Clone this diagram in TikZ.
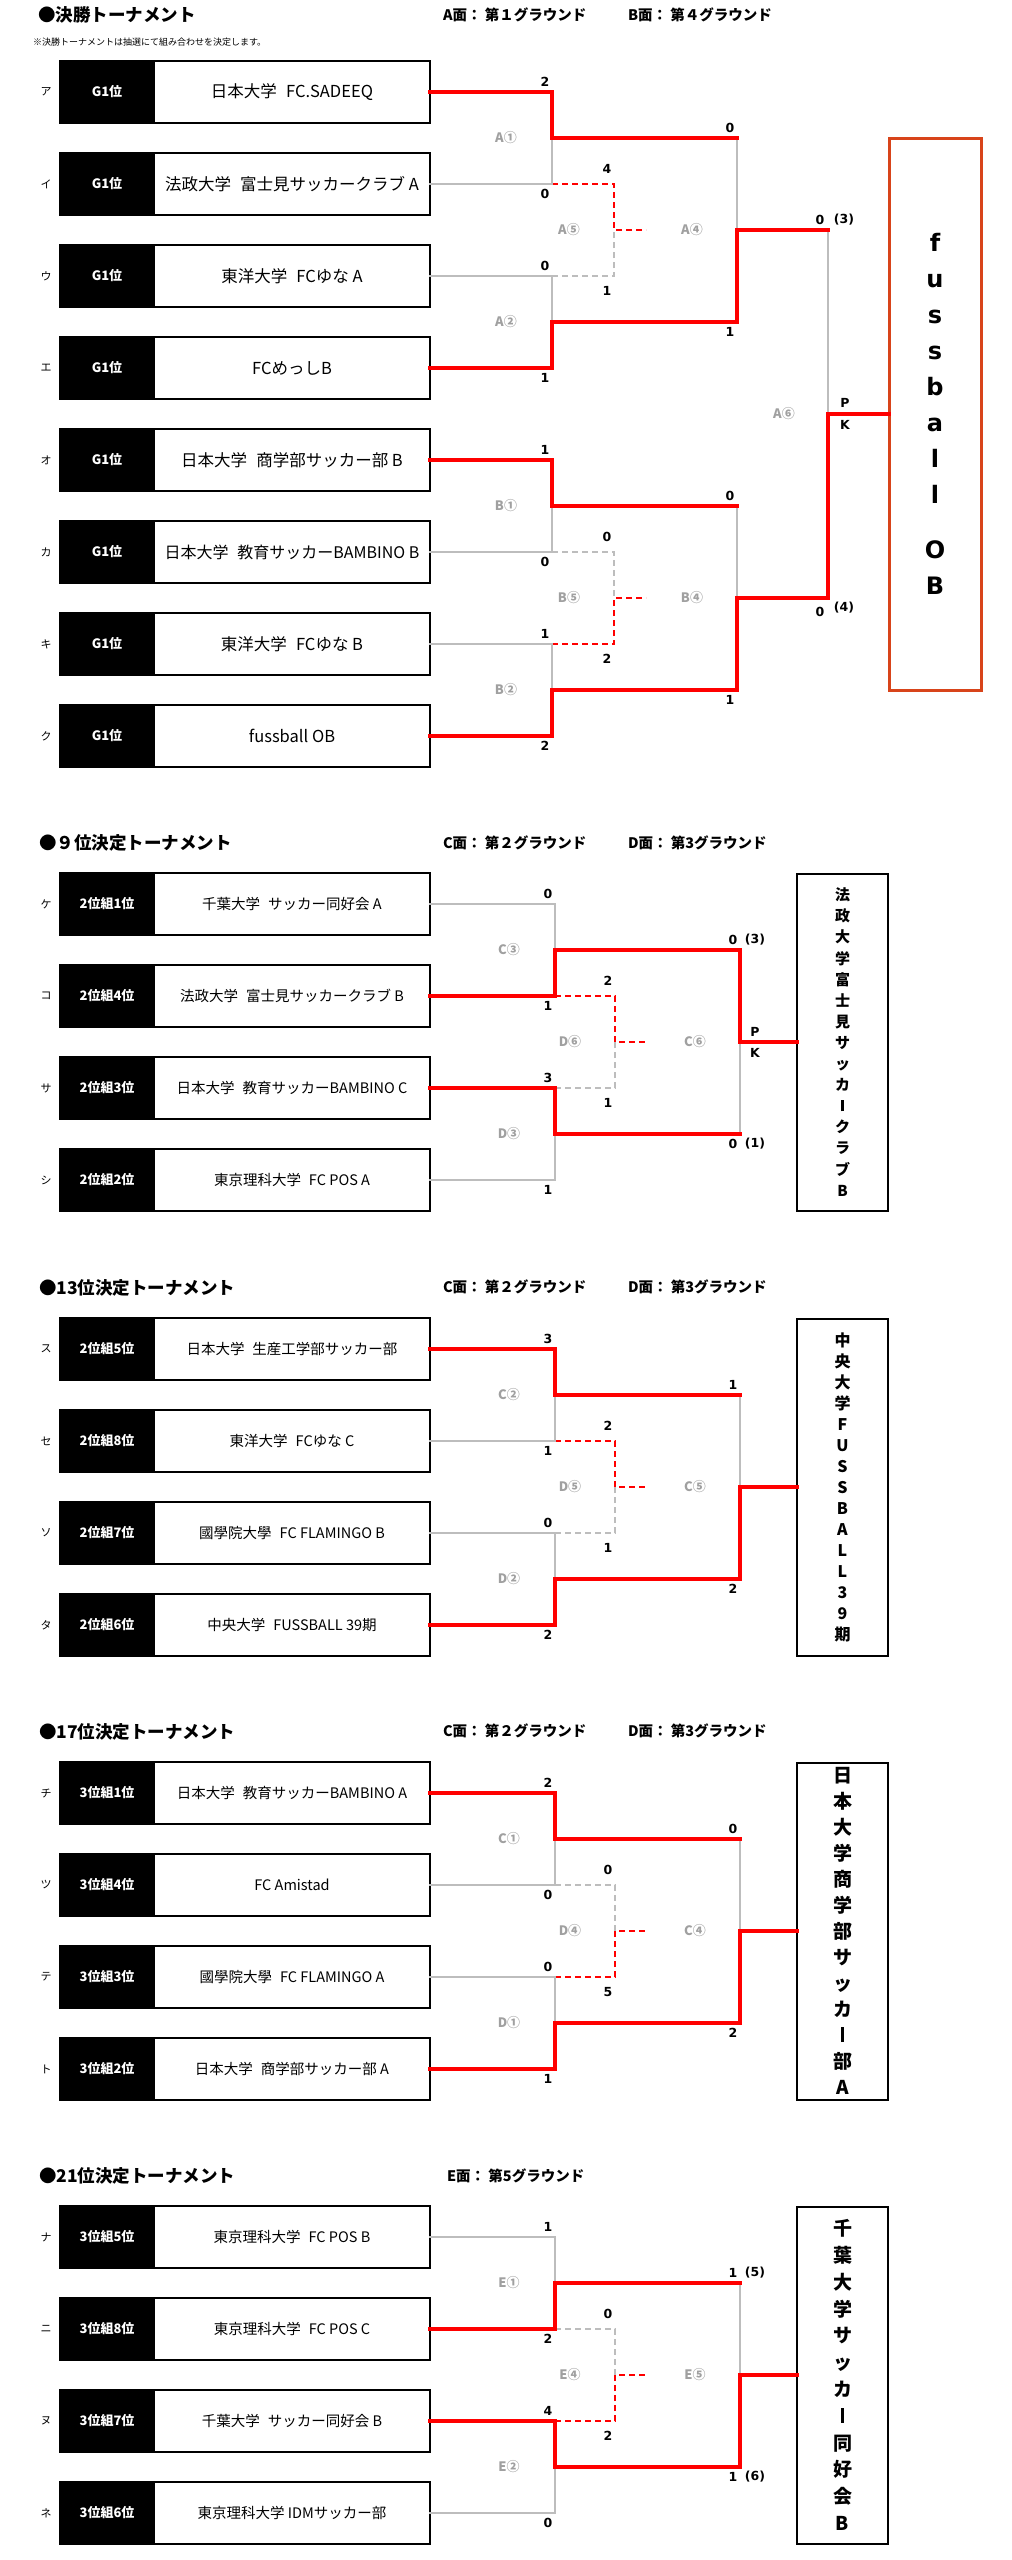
\documentclass[tikz,border=0pt]{standalone}
\usepackage{fontspec}
\setmainfont{Noto Sans CJK JP}
\newfontfamily\scorefont{DejaVu Sans}
\definecolor{winred}{HTML}{FF0000}
\definecolor{losegrey}{HTML}{BDBDBD}
\definecolor{lblgrey}{HTML}{A0A0A0}
\definecolor{champorange}{HTML}{D8441A}
\newcommand{\tgap}{\hspace{0.55em}}
\newcommand{\vbarch}{\rule[0.02em]{0.14em}{0.78em}}
\tikzset{
  every node/.style={inner sep=0pt, outer sep=0pt},
  titletext/.style={anchor=west, font=\bfseries\fontsize{17.5}{17.5}\selectfont},
  notetext/.style={anchor=west, font=\fontsize{9}{9}\selectfont},
  hdrtext/.style={anchor=west, font=\bfseries\fontsize{14.5}{14.5}\selectfont},
  kanalbl/.style={font=\fontsize{11}{11}\selectfont},
  rankbox/.style={minimum width=94pt, minimum height=62pt, fill=black, draw=black, line width=2pt, text=white, font=\bfseries\fontsize{13}{13}\selectfont},
  namebox/.style={minimum width=276pt, minimum height=62pt, fill=white, draw=black, line width=2pt},
  win/.style={draw=winred, line width=3.1pt, line cap=rect},
  lose/.style={draw=losegrey, line width=2.5pt, line cap=rect},
  dwin/.style={draw=winred, line width=2.2pt, dash pattern=on 6pt off 4pt},
  dlose/.style={draw=losegrey, line width=2.2pt, dash pattern=on 6pt off 4pt},
  score/.style={font=\scorefont\bfseries\fontsize{12.5}{12.5}\selectfont},
  matchlbl/.style={text=lblgrey, font=\bfseries\fontsize{13}{13}\selectfont},
  champbox/.style={minimum width=91pt, minimum height=337pt, draw=black, line width=2pt, align=center},
}
\newcommand{\teambox}[6]{%
  \node[kanalbl] (#1k) at (46,#2) {#3};
  \node[rankbox] (#1r) at (107,#2) {#4};
  \node[namebox, font={\fontsize{#6}{#6}\selectfont}] (#1) at (292,#2) {#5};
}
\newcommand{\bracket}[6]{%
  \pgfmathsetmacro\yA{#2}\pgfmathsetmacro\yB{#2+92}\pgfmathsetmacro\yC{#2+184}\pgfmathsetmacro\yD{#2+276}%
  \pgfmathsetmacro\yM{#2+46}\pgfmathsetmacro\yN{#2+230}\pgfmathsetmacro\yF{#2+138}%
  \pgfmathsetmacro\xS{\VD+32}%
  \coordinate (#1j1) at (\VA,\yA);
  \coordinate (#1j2) at (\VA,\yB);
  \coordinate (#1j3) at (\VA,\yC);
  \coordinate (#1j4) at (\VA,\yD);
  \coordinate (#1m1) at (\VA,\yM);
  \coordinate (#1m2) at (\VA,\yN);
  \coordinate (#1f1) at (\VB,\yM);
  \coordinate (#1f2) at (\VB,\yN);
  \coordinate (#1fm) at (\VB,\yF);
  \coordinate (#1du) at (\VD,\yB);
  \coordinate (#1dd) at (\VD,\yC);
  \coordinate (#1dm) at (\VD,\yF);
  \coordinate (#1ds) at (\xS,\yF);
  \ifnum#5=1
    \draw[dlose] (#1j3) -- (#1dd) -- (#1dm);
    \draw[dwin] (#1j2) -- (#1du) -- (#1dm) -- (#1ds);
  \else
    \draw[dlose] (#1j2) -- (#1du) -- (#1dm);
    \draw[dwin] (#1j3) -- (#1dd) -- (#1dm) -- (#1ds);
  \fi
  \ifnum#3=1 \draw[lose] (#1b.east) -- (#1j2) -- (#1m1); \else \draw[lose] (#1a.east) -- (#1j1) -- (#1m1); \fi
  \ifnum#4=3 \draw[lose] (#1d.east) -- (#1j4) -- (#1m2); \else \draw[lose] (#1c.east) -- (#1j3) -- (#1m2); \fi
  \ifnum#6=1 \draw[lose] (#1f2) -- (#1fm); \else \draw[lose] (#1f1) -- (#1fm); \fi
  \ifnum#3=1 \draw[win] (#1a.east) -- (#1j1) -- (#1m1) -- (#1f1); \else \draw[win] (#1b.east) -- (#1j2) -- (#1m1) -- (#1f1); \fi
  \ifnum#4=3 \draw[win] (#1c.east) -- (#1j3) -- (#1m2) -- (#1f2); \else \draw[win] (#1d.east) -- (#1j4) -- (#1m2) -- (#1f2); \fi
  \ifnum#6=1 \draw[win] (#1f1) -- (#1fm); \else \draw[win] (#1f2) -- (#1fm); \fi
}
\newcommand{\scores}[8]{%
  \pgfmathsetmacro\xa{\VA-7}\pgfmathsetmacro\xd{\VD-7}%
  \node[score] (#1s1) at (\xa,#2-10) {#3};
  \node[score] (#1s2) at (\xa,#2+102) {#4};
  \node[score] (#1s3) at (\xa,#2+174) {#5};
  \node[score] (#1s4) at (\xa,#2+286) {#6};
  \node[score] (#1s5) at (\xd,#2+77) {#7};
  \node[score] (#1s6) at (\xd,#2+199) {#8};
}
\newcommand{\fscores}[4]{%
  \pgfmathsetmacro\xb{\VB-7}%
  \node[score] (#1s7) at (\xb,#2+36) {#3};
  \node[score] (#1s8) at (\xb,#2+240) {#4};
}
\newcommand{\mlabels}[6]{%
  \pgfmathsetmacro\xl{\VA-46}\pgfmathsetmacro\xm{\VD-45}\pgfmathsetmacro\xn{\VB-45}%
  \node[matchlbl] (#1l1) at (\xl,#2+46) {#3};
  \node[matchlbl] (#1l2) at (\xm,#2+138) {#4};
  \node[matchlbl] (#1l3) at (\xn,#2+138) {#5};
  \node[matchlbl] (#1l4) at (\xl,#2+230) {#6};
}
\begin{document}
\begin{tikzpicture}[x=1pt,y=-1pt]
\fill[white] (0,0) rectangle (1012,2560);
\useasboundingbox (0,0) rectangle (1012,2560);

% ===== Section 1 =====
\node[titletext] (ttl1) at (38,15) {●決勝トーナメント};
\node[notetext] (note1) at (33,42) {※決勝トーナメントは抽選にて組み合わせを決定します。};
\node[hdrtext] (hdr1a) at (443,15) {A面：\ 第１グラウンド};
\node[hdrtext] (hdr1b) at (628,15) {B面：\ 第４グラウンド};

\teambox{Aa}{92}{ア}{G1位}{日本大学\tgap FC.SADEEQ}{16.5}
\teambox{Ab}{184}{イ}{G1位}{法政大学\tgap 富士見サッカークラブ A}{16.5}
\teambox{Ac}{276}{ウ}{G1位}{東洋大学\tgap FCゆな A}{16.5}
\teambox{Ad}{368}{エ}{G1位}{FCめっしB}{16.5}
\teambox{Ba}{460}{オ}{G1位}{日本大学\tgap 商学部サッカー部 B}{16.5}
\teambox{Bb}{552}{カ}{G1位}{日本大学\tgap 教育サッカーBAMBINO B}{16}
\teambox{Bc}{644}{キ}{G1位}{東洋大学\tgap FCゆな B}{16.5}
\teambox{Bd}{736}{ク}{G1位}{fussball OB}{16.5}

\node[draw=champorange, line width=3pt, minimum width=92pt, minimum height=552pt, align=center,
      font=\scorefont\bfseries\fontsize{24}{36}\selectfont] (champA) at (935,414)
      {f\\u\\s\\s\\b\\a\\l\\l\\[19pt]O\\B};

\def\VA{552}\def\VD{614}\def\VB{737}
\bracket{A}{92}{1}{4}{1}{2}
\bracket{B}{460}{1}{4}{2}{2}
\coordinate (P3a) at (828,230);
\coordinate (P3m) at (828,414);
\coordinate (P3b) at (828,598);
\draw[lose] (P3a) -- (P3m);
\draw[win] (Afm) -- (P3a);
\draw[win] (Bfm) -- (P3b) -- (P3m) -- (champA.west);

\scores{A}{92}{2}{0}{0}{1}{4}{1}
\scores{B}{460}{1}{0}{1}{2}{0}{2}
\fscores{A}{92}{0}{1}
\fscores{B}{460}{0}{1}
\mlabels{A}{92}{A①}{A⑤}{A④}{A②}
\mlabels{B}{460}{B①}{B⑤}{B④}{B②}
\node[matchlbl] (A6l) at (784,414) {A⑥};
\node[score] (F1s) at (820,220) {0};
\node[score] (F1p) at (844,220) {(3)};
\node[score] (F2s) at (820,612) {0};
\node[score] (F2p) at (844,608) {(4)};
\node[score] (F1P) at (845,403) {P};
\node[score] (F1K) at (845,425) {K};

% ===== lower sections =====
\def\VA{555}\def\VD{615}\def\VB{740}

% --- Section 2 ---
\node[titletext] (ttl2) at (39,843) {●９位決定トーナメント};
\node[hdrtext] (hdr2a) at (443,843) {C面：\ 第２グラウンド};
\node[hdrtext] (hdr2b) at (628,843) {D面：\ 第3グラウンド};
\teambox{Ca}{904}{ケ}{2位組1位}{千葉大学\tgap サッカー同好会 A}{14.5}
\teambox{Cb}{996}{コ}{2位組4位}{法政大学\tgap 富士見サッカークラブ B}{14.5}
\teambox{Cc}{1088}{サ}{2位組3位}{日本大学\tgap 教育サッカーBAMBINO C}{14.5}
\teambox{Cd}{1180}{シ}{2位組2位}{東京理科大学\tgap FC POS A}{14.5}
\node[champbox, font=\bfseries\fontsize{15}{21.1}\selectfont] (champC) at (842.5,1042)
  {法\\政\\大\\学\\富\\士\\見\\サ\\ッ\\カ\\\vbarch\\ク\\ラ\\ブ\\B};
\bracket{C}{904}{2}{3}{1}{1}
\draw[win] (Cfm) -- (champC.west);
\scores{C}{904}{0}{1}{3}{1}{2}{1}
\mlabels{C}{904}{C③}{D⑥}{C⑥}{D③}
\node[score] (Cf1) at (733,940) {0};
\node[score] (Cf1p) at (755,940) {(3)};
\node[score] (Cf2) at (733,1144) {0};
\node[score] (Cf2p) at (755,1144) {(1)};
\node[score] (CP) at (755,1032) {P};
\node[score] (CK) at (755,1053) {K};

% --- Section 3 ---
\node[titletext] (ttl3) at (39,1288) {●13位決定トーナメント};
\node[hdrtext] (hdr3a) at (443,1287) {C面：\ 第２グラウンド};
\node[hdrtext] (hdr3b) at (628,1287) {D面：\ 第3グラウンド};
\teambox{Da}{1349}{ス}{2位組5位}{日本大学\tgap 生産工学部サッカー部}{14.5}
\teambox{Db}{1441}{セ}{2位組8位}{東洋大学\tgap FCゆな C}{14.5}
\teambox{Dc}{1533}{ソ}{2位組7位}{國學院大學\tgap FC FLAMINGO B}{14.5}
\teambox{Dd}{1625}{タ}{2位組6位}{中央大学\tgap FUSSBALL 39期}{14.5}
\node[champbox, font=\bfseries\fontsize{16}{21}\selectfont] (champD) at (842.5,1487)
  {中\\央\\大\\学\\F\\U\\S\\S\\B\\A\\L\\L\\3\\9\\期};
\bracket{D}{1349}{1}{4}{1}{2}
\draw[win] (Dfm) -- (champD.west);
\scores{D}{1349}{3}{1}{0}{2}{2}{1}
\fscores{D}{1349}{1}{2}
\mlabels{D}{1349}{C②}{D⑤}{C⑤}{D②}

% --- Section 4 ---
\node[titletext] (ttl4) at (39,1732) {●17位決定トーナメント};
\node[hdrtext] (hdr4a) at (443,1731) {C面：\ 第２グラウンド};
\node[hdrtext] (hdr4b) at (628,1731) {D面：\ 第3グラウンド};
\teambox{Ea}{1793}{チ}{3位組1位}{日本大学\tgap 教育サッカーBAMBINO A}{14.5}
\teambox{Eb}{1885}{ツ}{3位組4位}{FC Amistad}{14.5}
\teambox{Ec}{1977}{テ}{3位組3位}{國學院大學\tgap FC FLAMINGO A}{14.5}
\teambox{Ed}{2069}{ト}{3位組2位}{日本大学\tgap 商学部サッカー部 A}{14.5}
\node[champbox, font=\bfseries\fontsize{19}{26}\selectfont] (champE) at (842.5,1931)
  {日\\本\\大\\学\\商\\学\\部\\サ\\ッ\\カ\\\vbarch\\部\\A};
\bracket{E}{1793}{1}{4}{2}{2}
\draw[win] (Efm) -- (champE.west);
\scores{E}{1793}{2}{0}{0}{1}{0}{5}
\fscores{E}{1793}{0}{2}
\mlabels{E}{1793}{C①}{D④}{C④}{D①}

% --- Section 5 ---
\node[titletext] (ttl5) at (39,2176) {●21位決定トーナメント};
\node[hdrtext] (hdr5a) at (447,2176) {E面：\ 第5グラウンド};
\teambox{Ga}{2237}{ナ}{3位組5位}{東京理科大学\tgap FC POS B}{14.5}
\teambox{Gb}{2329}{ニ}{3位組8位}{東京理科大学\tgap FC POS C}{14.5}
\teambox{Gc}{2421}{ヌ}{3位組7位}{千葉大学\tgap サッカー同好会 B}{14.5}
\teambox{Gd}{2513}{ネ}{3位組6位}{東京理科大学 IDMサッカー部}{14.5}
\node[champbox, font=\bfseries\fontsize{19}{26.8}\selectfont] (champG) at (842.5,2375)
  {千\\葉\\大\\学\\サ\\ッ\\カ\\\vbarch\\同\\好\\会\\B};
\bracket{G}{2237}{2}{3}{2}{2}
\draw[win] (Gfm) -- (champG.west);
\scores{G}{2237}{1}{2}{4}{0}{0}{2}
\mlabels{G}{2237}{E①}{E④}{E⑤}{E②}
\node[score] (Gf1) at (733,2273) {1};
\node[score] (Gf1p) at (755,2273) {(5)};
\node[score] (Gf2) at (733,2477) {1};
\node[score] (Gf2p) at (755,2477) {(6)};
\end{tikzpicture}
\end{document}
